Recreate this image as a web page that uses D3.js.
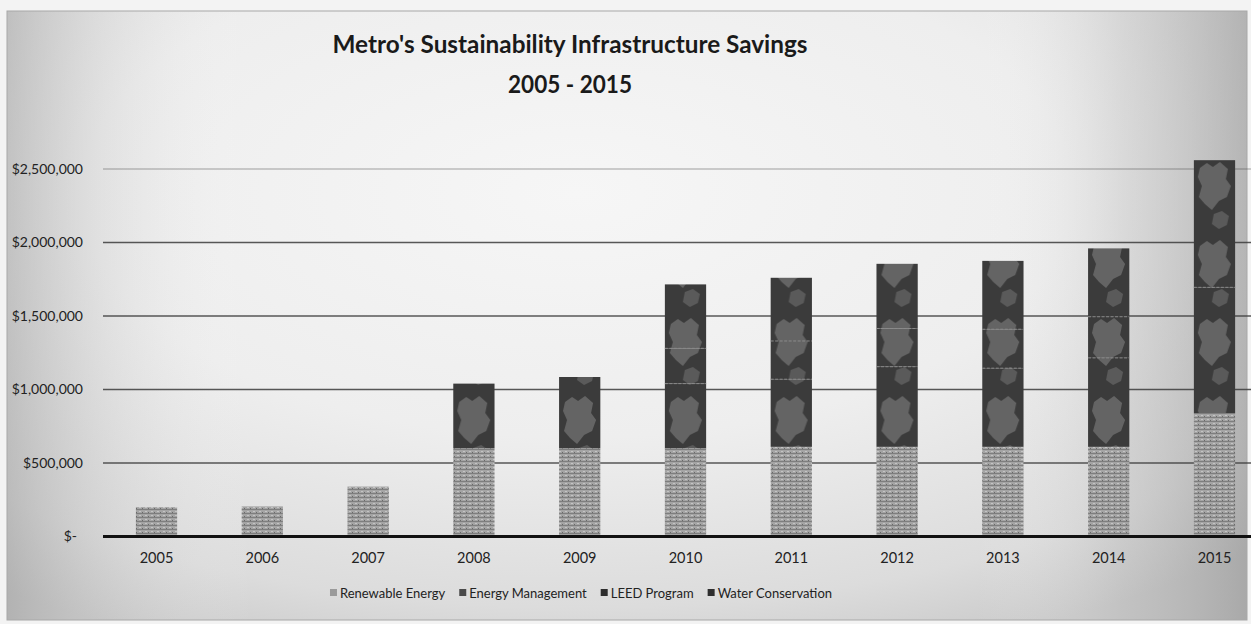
<!DOCTYPE html>
<html><head><meta charset="utf-8">
<script src="https://cdn.jsdelivr.net/npm/d3@7"></script>
<style>html,body{margin:0;padding:0;background:#fff;overflow:hidden}svg{display:block}</style>
</head><body><svg id="c" width="1251" height="624"></svg>
<script>
// ---- data ----
const years = ["2005","2006","2007","2008","2009","2010","2011","2012","2013","2014","2015"];
const renewableEnergy   = [200000, 205000, 340000, 600000, 600000, 600000, 610000, 610000, 610000, 610000, 840000];
const energyManagement  = [0, 0, 0, 440000, 485000, 440000, 460000, 545000, 535000, 605000, 855000];
const leedProgram       = [0, 0, 0, 0, 0, 240000, 260000, 260000, 265000, 280000, 0];
const waterConservation = [0, 0, 0, 0, 0, 435000, 430000, 440000, 465000, 465000, 865000];
const seriesNames = ["Renewable Energy", "Energy Management", "LEED Program", "Water Conservation"];
const yTickValues = [0, 500000, 1000000, 1500000, 2000000, 2500000];
const titleLines = ["Metro's Sustainability Infrastructure Savings", "2005 - 2015"];

// ---- build table ----
const seriesArrays = [renewableEnergy, energyManagement, leedProgram, waterConservation];
const table = years.map((yr, i) => {
  const row = {year: yr};
  seriesNames.forEach((s, k) => row[s] = seriesArrays[k][i]);
  return row;
});
const stacked = d3.stack().keys(seriesNames)(table);

const svg = d3.select("#c");
const W = 1251, H = 624;
const FONT = "Lato, 'Open Sans', 'DejaVu Sans', sans-serif";

// ---- scales ----
const x = d3.scaleBand().domain(years).range([103.6, 1267.4]).paddingInner(0.61).paddingOuter(0.305);
const y = d3.scaleLinear().domain([0, 2500000]).range([536.5, 169]);

// ---- defs ----
const defs = svg.append("defs");
const bg = defs.append("radialGradient").attr("id", "bg").attr("cx", "0.46").attr("cy", "0.3").attr("r", "0.8");
bg.append("stop").attr("offset", "0").attr("stop-color", "#f6f6f6");
bg.append("stop").attr("offset", "0.5").attr("stop-color", "#eeeeee");
bg.append("stop").attr("offset", "0.85").attr("stop-color", "#dcdcdc");
bg.append("stop").attr("offset", "1").attr("stop-color", "#cacaca");

const side = defs.append("linearGradient").attr("id", "side").attr("x1", 0).attr("x2", 1).attr("y1", 0).attr("y2", 0);
side.append("stop").attr("offset", "0").attr("stop-color", "#9a9a9a").attr("stop-opacity", 0.5);
side.append("stop").attr("offset", "0.08").attr("stop-color", "#bdbdbd").attr("stop-opacity", 0.25);
side.append("stop").attr("offset", "0.2").attr("stop-color", "#ffffff").attr("stop-opacity", 0);
side.append("stop").attr("offset", "0.78").attr("stop-color", "#ffffff").attr("stop-opacity", 0);
side.append("stop").attr("offset", "0.9").attr("stop-color", "#b0b0b0").attr("stop-opacity", 0.3);
side.append("stop").attr("offset", "1").attr("stop-color", "#8e8e8e").attr("stop-opacity", 0.55);

// renewable texture
const pR = defs.append("pattern").attr("id", "pR").attr("patternUnits", "userSpaceOnUse")
  .attr("width", 6).attr("height", 4);
pR.append("rect").attr("width", 6).attr("height", 4).attr("fill", "#a4a4a4");
pR.append("rect").attr("x", 0).attr("y", 1).attr("width", 6).attr("height", 1).attr("fill", "#7e7e7e");
pR.append("rect").attr("x", 1).attr("y", 3).attr("width", 2).attr("height", 1).attr("fill", "#c4c4c4");
pR.append("rect").attr("x", 4).attr("y", 0).attr("width", 1).attr("height", 1).attr("fill", "#6a6a6a");

// dark texture with lighter splotches
const pD = defs.append("pattern").attr("id", "pD").attr("patternUnits", "userSpaceOnUse")
  .attr("x", x(years[0])).attr("y", 0).attr("width", x.step()).attr("height", 78);
pD.append("rect").attr("width", x.step()).attr("height", 78).attr("fill", "#3b3b3b");
pD.append("path").attr("fill", "#646464")
  .attr("d", "M6,12 L13,7 L19,11 L26,6 L34,13 L32,23 L37,30 L33,41 L25,45 L18,54 L11,48 L5,41 L8,30 L4,21 Z");
pD.append("path").attr("fill", "#5a5a5a")
  .attr("d", "M20,58 L28,55 L35,60 L33,69 L25,73 L18,68 Z");

// ---- background & frame ----
svg.append("rect").attr("x", 0).attr("y", 0).attr("width", W).attr("height", H).attr("fill", "#f3f3f3");
svg.append("rect").attr("x", 7).attr("y", 11).attr("width", 1240).attr("height", 609).attr("fill", "url(#bg)");
svg.append("rect").attr("x", 7).attr("y", 11).attr("width", 1240).attr("height", 609).attr("fill", "url(#side)");
svg.append("rect").attr("x", 7).attr("y", 11).attr("width", 1240).attr("height", 609)
  .attr("fill", "none").attr("stroke", "#a8a8a8").attr("stroke-width", 1);

// ---- title ----
const tW = [475, 124];
const tY = [53, 93];
titleLines.forEach((t, i) => {
  svg.append("text").attr("x", 570).attr("y", tY[i]).attr("text-anchor", "middle")
    .attr("font-family", FONT).attr("font-weight", "bold").attr("font-size", 25)
    .attr("fill", "#1a1a1a").attr("textLength", tW[i]).attr("lengthAdjust", "spacingAndGlyphs")
    .text(t);
});

// ---- gridlines ----
svg.append("g").selectAll("line").data(yTickValues.filter(d => d > 0)).join("line")
  .attr("x1", 103).attr("x2", W).attr("y1", d => y(d)).attr("y2", d => y(d))
  .attr("stroke", "#3c3c3c").attr("stroke-width", 1.3)
  .attr("opacity", d => d === yTickValues[yTickValues.length - 1] ? 0.3 : 0.85);

// ---- bars ----
const gBars = svg.append("g");
stacked.forEach((layer, k) => {
  gBars.append("g").selectAll("rect").data(layer.filter(d => d[1] - d[0] > 0)).join("rect")
    .attr("x", d => x(d.data.year))
    .attr("width", x.bandwidth())
    .attr("y", d => y(d[1]))
    .attr("height", d => y(d[0]) - y(d[1]))
    .attr("fill", k === 0 ? "url(#pR)" : "url(#pD)");
  if (k >= 2) {
    gBars.append("g").selectAll("line").data(layer.filter(d => d[1] - d[0] > 0 && d[0] > d.data[seriesNames[0]])).join("line")
      .attr("x1", d => x(d.data.year)).attr("x2", d => x(d.data.year) + x.bandwidth())
      .attr("y1", d => y(d[0])).attr("y2", d => y(d[0]))
      .attr("stroke", "#8a8a8a").attr("stroke-width", 1).attr("stroke-dasharray", "3,1.5");
  }
});

// ---- axes ----
const fmt = d => d === 0 ? "$-" : "$" + d3.format(",")(d);
const yAxis = svg.append("g").attr("transform", "translate(103,0)")
  .call(d3.axisLeft(y).tickValues(yTickValues).tickSize(0).tickPadding(20).tickFormat(fmt));
yAxis.select(".domain").remove();
yAxis.selectAll("text").attr("font-family", FONT).attr("font-size", 14).attr("fill", "#222");
yAxis.selectAll(".tick").filter(d => d === 0).select("text").attr("dx", -6);

const xAxis = svg.append("g").attr("transform", "translate(0,537)")
  .call(d3.axisBottom(x).tickSize(0).tickPadding(16));
xAxis.select(".domain").remove();
xAxis.selectAll("text").attr("font-family", FONT).attr("font-size", 14.5).attr("fill", "#222");

svg.append("line").attr("x1", 103).attr("x2", W).attr("y1", y(0)).attr("y2", y(0))
  .attr("stroke", "#111").attr("stroke-width", 3);

// ---- legend ----
const legend = svg.append("g");
let cx = 0;
seriesNames.forEach((name, k) => {
  const g = legend.append("g");
  g.append("rect").attr("x", 0).attr("y", -9).attr("width", 7).attr("height", 7)
    .attr("fill", k === 0 ? "#9a9a9a" : (k === 1 ? "#4a4a4a" : "#2e2e2e"));
  const t = g.append("text").attr("x", 10).attr("y", 0).attr("font-family", FONT)
    .attr("font-size", 13).attr("fill", "#222").text(name);
  const w = 10 + t.node().getComputedTextLength();
  g.attr("transform", `translate(${cx},598)`);
  cx += w + 14;
});
const totalW = cx - 14;
legend.attr("transform", `translate(${581 - totalW / 2},0)`);
</script></body></html>
